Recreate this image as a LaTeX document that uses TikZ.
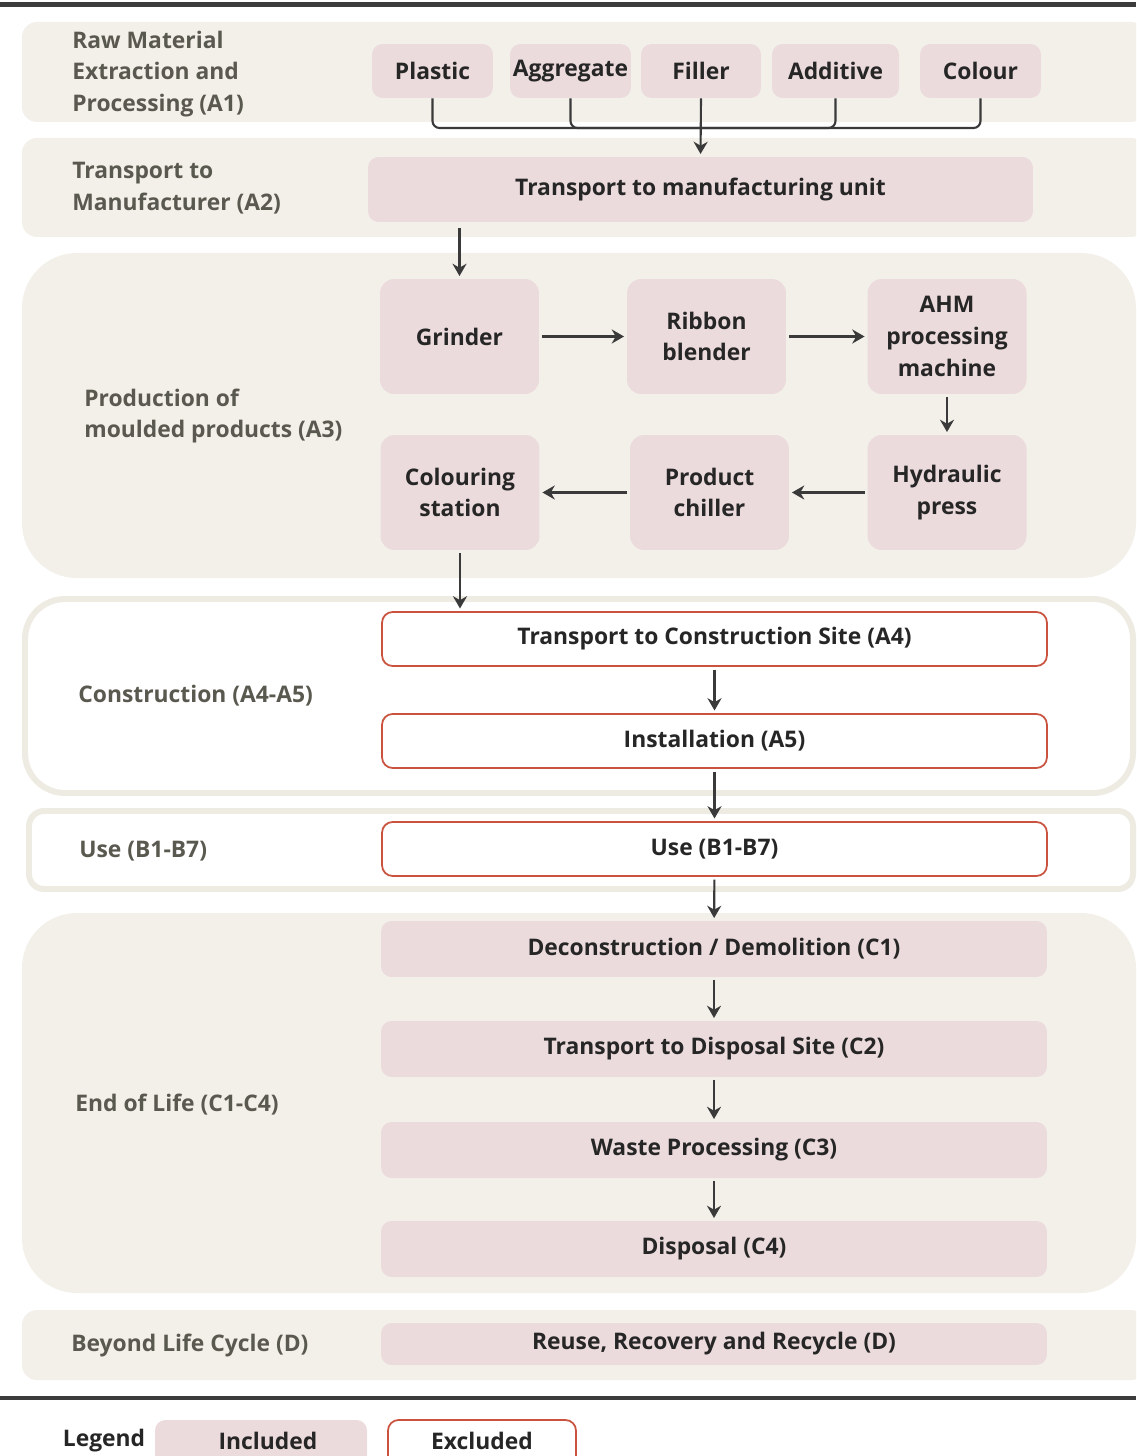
\documentclass[tikz,border=0pt]{standalone}
\usepackage{fontspec}
\setmainfont{Open Sans}
\usetikzlibrary{arrows.meta}
\definecolor{bandbg}{HTML}{F3F0E9}
\definecolor{bandline}{HTML}{EEEBE3}
\definecolor{inclpink}{HTML}{ECDBDC}
\definecolor{exclred}{HTML}{C9533F}
\definecolor{stagegray}{HTML}{5A594F}
\definecolor{boxtext}{HTML}{262626}
\definecolor{flowgray}{HTML}{3A3A3A}
\definecolor{ruleline}{HTML}{3C3C3C}

\begin{document}
\begin{tikzpicture}[x=0.02cm, y=-0.02cm,
  txt/.style={font=\fontsize{13pt}{18pt}\selectfont\bfseries},
  incl/.style={txt, fill=inclpink, text=boxtext, rounded corners=6pt, align=center, inner sep=0pt},
  excl/.style={txt, draw=exclred, line width=1pt, fill=white, text=boxtext, rounded corners=6pt, inner sep=0pt},
  stage/.style={txt, anchor=west, align=left, text=stagegray, inner sep=0pt},
  flow/.style={draw=flowgray, line width=1.2pt, shorten <=1.5pt, shorten >=1.5pt, -{Stealth[length=7pt,width=8pt]}}]
  \clip (0,0) rectangle (1136,1456);
  % Stage bands
  \fill[bandbg, rounded corners=0.3cm] (22,22) rectangle (1146,122);
  \fill[bandbg, rounded corners=0.3cm] (22,138) rectangle (1146,237);
  \fill[bandbg, rounded corners=1.1cm] (22,253) rectangle (1136,578);
  \draw[bandline, fill=white, line width=3.4pt, rounded corners=0.8cm] (25,599) rectangle (1133,793);
  \draw[bandline, fill=white, line width=3.4pt, rounded corners=0.3cm] (29,811) rectangle (1133,889);
  \fill[bandbg, rounded corners=1.1cm] (22,913) rectangle (1136,1293);
  \fill[bandbg, rounded corners=0.3cm] (22,1310) rectangle (1146,1380);
  % Top and bottom rules
  \draw[ruleline, line width=2.8pt] (0,4.5) -- (1136,4.5);
  \draw[ruleline, line width=2.8pt] (0,1398) -- (1136,1398);

  % Stage labels
  \node[stage] (lab-a1) at (72,74) {Raw Material\\Extraction and\\Processing (A1)};
  \node[stage] (lab-a2) at (72,188) {Transport to\\Manufacturer (A2)};
  \node[stage] (lab-a3) at (84,416) {Production of\\moulded products (A3)};
  \node[stage] (lab-a4) at (78,696) {Construction (A4-A5)};
  \node[stage] (lab-b) at (79,851) {Use (B1-B7)};
  \node[stage] (lab-c) at (75,1105) {End of Life (C1-C4)};
  \node[stage] (lab-d) at (71,1345) {Beyond Life Cycle (D)};

  % Raw materials
  \foreach \n/\x/\w/\t in {plastic/432.5/2.42/Plastic, aggregate/570.5/2.42/Aggregate,
      filler/701/2.4/Filler, additive/835.5/2.54/Additive, colour/980.5/2.42/Colour}
    \node[incl, minimum width=\w cm, minimum height=1.08cm] (\n) at (\x,71) {\t};
  \node[incl, minimum width=13.3cm, minimum height=1.3cm] (transport) at (700.5,189.5) {Transport to manufacturing unit};
  \coordinate (join) at (701,128);
  \foreach \n in {plastic, aggregate, additive, colour}
    \draw[flowgray, line width=1.2pt, rounded corners=4pt] (\n.south) |- (join);
  \draw[flow, shorten <=0pt] (filler.south) -- (transport.north);

  % Production line (A3)
  \foreach \n/\x/\y/\t in {grinder/459.5/336.5/Grinder, ribbon/706.5/336.5/Ribbon\\blender,
      ahm/947/336.5/AHM\\processing\\machine, colouring/460/492.5/Colouring\\station,
      chiller/709.5/492.5/Product\\chiller, press/947/492.5/Hydraulic\\press}
    \node[incl, rounded corners=8pt, minimum width=3.18cm, minimum height=2.3cm] (\n) at (\x,\y) {\t};
  \draw[flow, shorten <=3pt] (transport.south -| grinder.north) -- (grinder.north);
  \draw[flow] (grinder) -- (ribbon);
  \draw[flow] (ribbon) -- (ahm);
  \draw[flow] (ahm) -- (press);
  \draw[flow] (press) -- (chiller);
  \draw[flow] (chiller) -- (colouring);

  % Construction and use
  \node[excl, minimum width=13.3cm, minimum height=1.08cm] (a4) at (714.5,639) {Transport to Construction Site (A4)};
  \node[excl, minimum width=13.3cm, minimum height=1.08cm] (a5) at (714.5,741) {Installation (A5)};
  \node[excl, minimum width=13.3cm, minimum height=1.08cm] (use) at (714.5,849) {Use (B1-B7)};
  \draw[flow] (colouring.south) -- (colouring.south |- a4.north);
  \draw[flow] (a4) -- (a5);
  \draw[flow] (a5) -- (use);

  % End of life and beyond
  \node[incl, minimum width=13.32cm, minimum height=1.12cm] (c1) at (714,949) {Deconstruction / Demolition (C1)};
  \node[incl, minimum width=13.32cm, minimum height=1.12cm] (c2) at (714,1049) {Transport to Disposal Site (C2)};
  \node[incl, minimum width=13.32cm, minimum height=1.12cm] (c3) at (714,1150) {Waste Processing (C3)};
  \node[incl, minimum width=13.32cm, minimum height=1.12cm] (c4) at (714,1249) {Disposal (C4)};
  \node[incl, minimum width=13.32cm, minimum height=0.84cm] (d) at (714,1344) {Reuse, Recovery and Recycle (D)};
  \draw[flow] (use) -- (c1);
  \draw[flow] (c1) -- (c2);
  \draw[flow] (c2) -- (c3);
  \draw[flow] (c3) -- (c4);

  % Legend
  \fill[inclpink, rounded corners=6pt] (155,1420) rectangle (367,1480);
  \draw[exclred, fill=white, line width=1pt, rounded corners=6pt] (388,1420) rectangle (576,1480);
  \node[txt, text=boxtext] (legend) at (104,1441) {Legend};
  \node[txt, text=boxtext] (included) at (268,1441) {Included};
  \node[txt, text=boxtext] (excluded) at (482,1441) {Excluded};
\end{tikzpicture}
\end{document}
